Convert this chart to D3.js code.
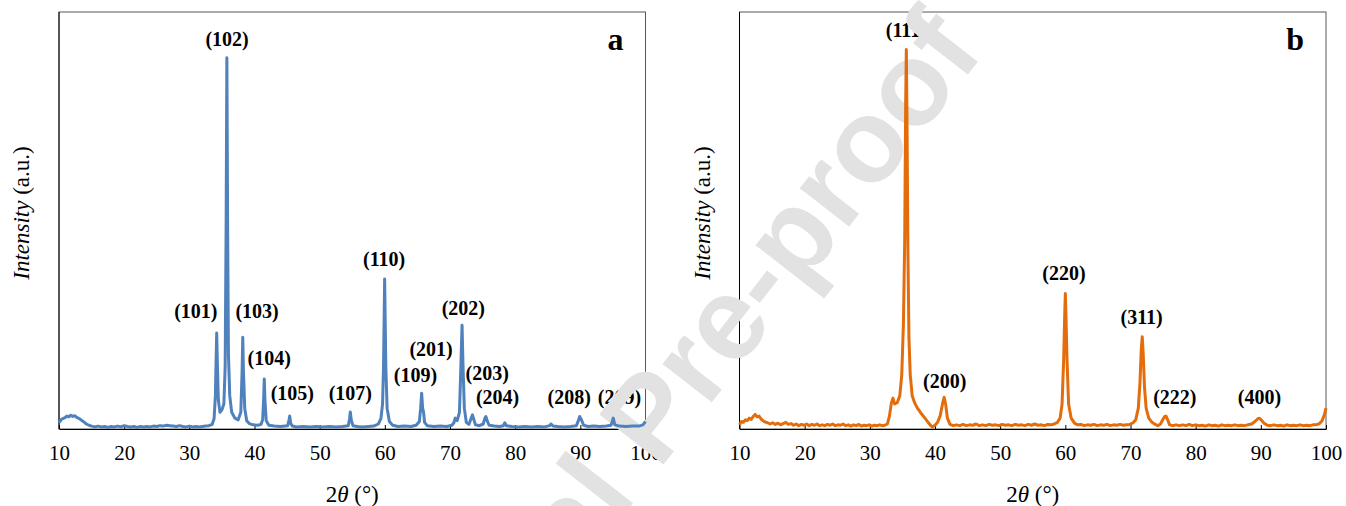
<!DOCTYPE html>
<html>
<head>
<meta charset="utf-8">
<script src="https://cdn.jsdelivr.net/npm/d3@7"></script>
<style>
  body { margin: 0; background: #fff; }
</style>
</head>
<body>
<svg id="chart" width="1346" height="506"></svg>
<script>
// XRD pattern a : [2theta, intensity]
var xrdA = [
  [10.0,1.5],[10.3,2.2],[10.6,2.5],[10.9,2.7],[11.2,3.1],[11.5,2.9],[11.8,3.3],[12.1,3.0],[12.4,3.2],[12.7,2.8],
  [13.0,2.6],[13.3,2.3],[13.6,1.9],[13.9,1.6],[14.2,1.2],[14.6,0.9],[15.0,0.7],[15.5,0.5],[16.0,0.7],[16.5,0.5],
  [17.0,0.6],[17.5,0.4],[18.0,0.6],[18.5,0.5],[19.0,0.7],[19.5,0.5],[20.0,0.8],[20.5,0.6],[21.0,0.5],[21.5,0.6],
  [22.0,0.4],[22.5,0.6],[23.0,0.5],[23.5,0.6],[24.0,0.5],[24.5,0.7],[25.0,0.6],[25.5,0.8],[26.0,0.7],[26.5,0.9],
  [27.0,0.8],[27.5,0.7],[28.0,0.6],[28.5,0.8],[29.0,0.6],[29.5,0.5],[30.0,0.7],[30.5,0.5],[31.0,0.6],[31.5,0.5],
  [32.0,0.6],[32.5,0.7],[33.0,0.8],[33.5,1.1],[33.8,2.5],[34.0,8],[34.1,16],[34.2,23],[34.3,16],[34.45,7],
  [34.7,4],[35.0,4.6],[35.3,6],[35.5,15],[35.65,50],[35.76,89],[35.87,50],[36.0,18],[36.2,8],[36.5,4],
  [37.0,2.6],[37.5,2.2],[37.9,4],[38.1,14],[38.2,22],[38.3,14],[38.5,5],[38.8,2.0],[39.2,1.3],[39.8,1.0],
  [40.5,0.9],[41.0,1.1],[41.25,2.2],[41.4,7],[41.5,12],[41.6,7],[41.8,2.0],[42.2,0.9],[43.0,0.7],[44.0,0.6],
  [45.1,0.8],[45.3,2.2],[45.4,3.1],[45.55,1.4],[45.8,0.7],[46.5,0.5],[47.5,0.6],[48.5,0.5],[49.5,0.6],[50.5,0.5],
  [51.5,0.6],[52.5,0.5],[53.5,0.6],[54.4,0.8],[54.6,2.6],[54.7,4.1],[54.85,2.2],[55.1,0.8],[55.8,0.6],[56.5,0.5],
  [57.5,0.6],[58.3,0.7],[59.0,1.2],[59.4,2.5],[59.65,6],[59.8,15],[59.97,36],[60.15,15],[60.35,5],[60.7,1.8],
  [61.2,0.9],[62.0,0.6],[63.0,0.7],[64.0,0.6],[64.8,0.9],[65.3,1.8],[65.5,5],[65.65,8.6],[65.8,5],[65.95,4.0],
  [66.1,1.6],[66.5,0.8],[67.5,0.6],[68.5,0.7],[69.5,0.6],[70.3,0.9],[70.6,1.5],[70.8,2.6],[71.1,2.0],[71.45,4],
  [71.65,14],[71.85,24.9],[72.0,15],[72.2,5],[72.5,1.6],[72.9,1.1],[73.25,2.6],[73.45,3.4],[73.65,2.3],[73.9,1.0],
  [74.5,0.8],[75.1,1.2],[75.35,2.6],[75.5,3.0],[75.7,2.0],[76.0,0.9],[76.8,0.7],[77.6,0.6],[78.2,0.8],[78.4,1.5],
  [78.65,0.8],[79.5,0.6],[80.5,0.5],[81.5,0.6],[82.5,0.5],[83.5,0.6],[84.5,0.5],[85.3,0.8],[85.5,1.2],[85.8,0.7],
  [86.5,0.6],[87.5,0.5],[88.5,0.6],[89.4,0.8],[89.7,2.0],[89.9,3.0],[90.2,2.1],[90.5,0.9],[91.2,0.6],[92.0,0.7],
  [93.0,0.6],[94.0,0.7],[94.7,0.9],[94.9,1.8],[95.05,2.6],[95.3,1.0],[96.0,0.7],[97.0,0.6],[98.0,0.7],[99.0,0.7],
  [99.6,1.0],[100.0,1.8]
];

// XRD pattern b
var xrdB = [
  [10.0,1.0],[10.3,1.8],[10.6,1.6],[10.9,2.2],[11.2,2.0],[11.5,2.6],[11.8,2.3],[12.1,3.0],[12.4,3.5],[12.7,2.9],
  [13.0,3.1],[13.3,2.4],[13.6,2.0],[13.9,1.7],[14.3,1.5],[14.7,1.2],[15.1,1.5],[15.5,1.1],[15.9,1.4],[16.3,1.0],
  [16.7,1.3],[17.1,1.6],[17.5,1.1],[17.9,1.3],[18.3,0.9],[18.7,1.2],[19.1,0.8],[19.5,1.1],[19.9,0.9],[20.3,1.2],
  [20.7,0.8],[21.1,1.1],[21.5,0.9],[21.9,1.2],[22.3,0.8],[22.7,1.0],[23.1,0.8],[23.5,1.1],[23.9,0.9],[24.3,1.2],
  [24.7,0.8],[25.1,1.0],[25.5,0.9],[25.9,1.2],[26.3,0.8],[26.7,1.0],[27.1,0.7],[27.5,1.0],[27.9,0.8],[28.3,1.1],
  [28.7,0.7],[29.1,0.9],[29.5,0.8],[29.9,1.0],[30.3,0.7],[30.7,0.9],[31.1,0.8],[31.5,1.0],[31.9,0.8],[32.3,0.9],
  [32.7,1.2],[33.0,3.0],[33.3,6.2],[33.55,7.4],[33.8,6.0],[34.2,6.3],[34.6,8],[34.9,13],[35.15,25],[35.35,45],
  [35.5,78],[35.6,91],[35.7,75],[35.85,42],[36.0,22],[36.2,13],[36.5,8],[36.9,6.2],[37.3,5.0],[37.8,3.9],
  [38.3,2.9],[38.8,1.9],[39.3,0.9],[39.6,0.5],[40.0,0.9],[40.4,1.6],[40.8,3.2],[41.15,6],[41.4,7.6],[41.65,5.8],
  [41.9,2.6],[42.3,1.1],[42.8,0.8],[43.3,1.0],[43.8,0.8],[44.3,1.1],[44.8,0.8],[45.3,1.0],[45.8,0.9],[46.3,1.2],
  [46.8,0.8],[47.3,1.0],[47.8,0.8],[48.3,1.1],[48.8,0.9],[49.3,1.0],[49.8,0.8],[50.3,1.1],[50.8,0.9],[51.3,1.0],
  [51.8,0.8],[52.3,1.1],[52.8,0.9],[53.3,1.0],[53.8,0.8],[54.3,1.1],[54.8,0.9],[55.3,1.2],[55.8,0.9],[56.3,1.0],
  [56.8,0.8],[57.3,1.1],[57.8,1.0],[58.3,1.2],[58.8,1.6],[59.2,2.6],[59.5,6],[59.75,17],[59.9,27],[60.0,32.5],
  [60.1,27],[60.25,17],[60.5,6],[60.9,2.6],[61.4,1.4],[61.9,1.0],[62.4,1.1],[62.9,0.8],[63.4,1.0],[63.9,0.9],
  [64.4,1.1],[64.9,0.8],[65.4,1.0],[65.9,0.9],[66.4,1.1],[66.9,0.8],[67.4,1.0],[67.9,0.9],[68.4,1.1],[68.9,0.9],
  [69.4,1.0],[69.9,1.1],[70.4,1.5],[70.8,2.2],[71.2,5],[71.45,11],[71.65,19],[71.8,22.1],[71.95,18],[72.15,10],
  [72.4,5],[72.8,2.6],[73.3,1.6],[73.8,1.1],[74.2,0.8],[74.6,1.2],[74.95,2.2],[75.25,3.0],[75.45,3.1],[75.7,2.2],
  [76.0,1.0],[76.5,0.8],[77.0,1.0],[77.5,0.8],[78.0,1.0],[78.5,0.8],[79.0,1.1],[79.5,0.8],[80.0,1.0],[80.5,0.8],
  [81.0,0.9],[81.5,0.7],[82.0,1.0],[82.5,0.8],[83.0,0.9],[83.5,0.7],[84.0,1.0],[84.5,0.8],[85.0,0.9],[85.5,0.8],
  [86.0,1.0],[86.5,0.8],[87.0,0.9],[87.5,0.8],[88.0,1.0],[88.6,1.2],[89.1,1.8],[89.5,2.4],[89.8,2.6],[90.1,2.1],
  [90.5,1.4],[91.0,0.9],[91.5,0.8],[92.0,1.0],[92.5,0.8],[93.0,0.9],[93.5,0.7],[94.0,1.0],[94.5,0.8],[95.0,0.9],
  [95.5,0.8],[96.0,1.0],[96.5,0.8],[97.0,0.9],[97.5,0.8],[98.0,1.0],[98.5,1.0],[99.0,1.3],[99.4,2.0],[99.75,3.4],
  [100.0,5.0]
];

// peak labels: [text, 2theta, intensity at text baseline]
var labelsA = [
  ["(102)",35.8,91.8],["(101)",31.0,26.6],["(103)",40.4,26.6],["(104)",42.25,15.3],["(105)",45.8,7.0],
  ["(107)",54.7,7.0],["(110)",59.9,39.1],["(109)",64.7,11.3],["(201)",67.1,17.5],["(202)",72.05,27.3],
  ["(203)",75.7,11.8],["(204)",77.3,6.0],["(208)",88.3,6.0],["(209)",96.0,6.0]
];
var labelsB = [
  ["(111)",35.6,94.0],["(200)",41.5,9.8],["(220)",59.8,35.7],["(311)",71.7,25.2],["(222)",76.8,6.0],
  ["(400)",89.8,6.0]
];

var xTicks = [10,20,30,40,50,60,70,80,90,100];

var serif = "'Liberation Serif', 'Times New Roman', serif";
var panels = [
  {data: xrdA, labels: labelsA, tag: "a", color: "#4f81bd", left: 59, right: 645.5},
  {data: xrdB, labels: labelsB, tag: "b", color: "#e46c0a", left: 739.5, right: 1326}
];
var plotTop = 12, plotBottom = 429;

var svg = d3.select("#chart");
var textLayer = svg.append("g");
var markLayer = svg.append("g");

panels.forEach(function(p) {
  var x = d3.scaleLinear().domain([10, 100]).range([p.left, p.right]);
  var y = d3.scaleLinear().domain([0, 100]).range([plotBottom, plotTop]);
  var g = textLayer.append("g").style("font-family", serif);

  // frame
  g.append("rect")
    .attr("x", p.left).attr("y", plotTop)
    .attr("width", p.right - p.left).attr("height", plotBottom - plotTop)
    .attr("fill", "none").attr("stroke", "#595959").attr("stroke-width", 1);
  g.append("line")
    .attr("x1", p.left).attr("x2", p.left).attr("y1", plotTop).attr("y2", plotBottom)
    .attr("stroke", "#000").attr("stroke-width", 1);

  // bottom axis, ticks pointing inwards
  var axis = g.append("g")
    .attr("transform", "translate(0," + plotBottom + ")")
    .call(d3.axisBottom(x).tickValues(xTicks).tickSizeInner(-4).tickSizeOuter(0).tickPadding(16));
  axis.select(".domain").attr("stroke", "#000");
  axis.selectAll("text")
    .style("font-size", "21px").style("font-family", serif).attr("fill", "#000");

  // axis titles
  var xt = g.append("text")
    .attr("x", (p.left + p.right) / 2).attr("y", 502)
    .attr("text-anchor", "middle").style("font-size", "23px");
  xt.append("tspan").text("2");
  xt.append("tspan").style("font-style", "italic").text("θ");
  xt.append("tspan").text(" (°)");

  var yt = g.append("text")
    .attr("transform", "translate(" + (p.left - 30) + ",213) rotate(-90)")
    .attr("text-anchor", "middle").style("font-size", "23px");
  yt.append("tspan").style("font-style", "italic").text("Intensity");
  yt.append("tspan").text(" (a.u.)");

  // panel tag
  g.append("text")
    .attr("x", p.right - 22).attr("y", 50)
    .attr("text-anchor", "end").style("font-size", "32px").style("font-weight", "bold")
    .text(p.tag);

  // peak labels
  g.selectAll("text.hkl")
    .data(p.labels)
    .enter().append("text")
    .attr("class", "hkl")
    .attr("x", function(d) { return x(d[1]); })
    .attr("y", function(d) { return y(d[2]); })
    .attr("text-anchor", "middle").style("font-size", "20px").style("font-weight", "bold")
    .text(function(d) { return d[0]; });

  // pattern
  var line = d3.line()
    .x(function(d) { return x(d[0]); })
    .y(function(d) { return y(d[1]); });
  markLayer.append("path")
    .datum(p.data)
    .attr("d", line)
    .attr("fill", "none")
    .attr("stroke", p.color)
    .attr("stroke-width", 3)
    .attr("stroke-linejoin", "round");
});

// watermark sits between the texts and the data lines
svg.insert("text", function() { return markLayer.node(); })
  .attr("transform", "translate(648,417) rotate(-52)")
  .attr("text-anchor", "middle")
  .attr("dy", "0.35em")
  .style("font-family", "'Liberation Sans', Arial, sans-serif")
  .style("font-size", "118px")
  .style("font-weight", "bold")
  .attr("fill", "#e2e2e2")
  .text("Journal Pre-proof");
</script>
</body>
</html>
